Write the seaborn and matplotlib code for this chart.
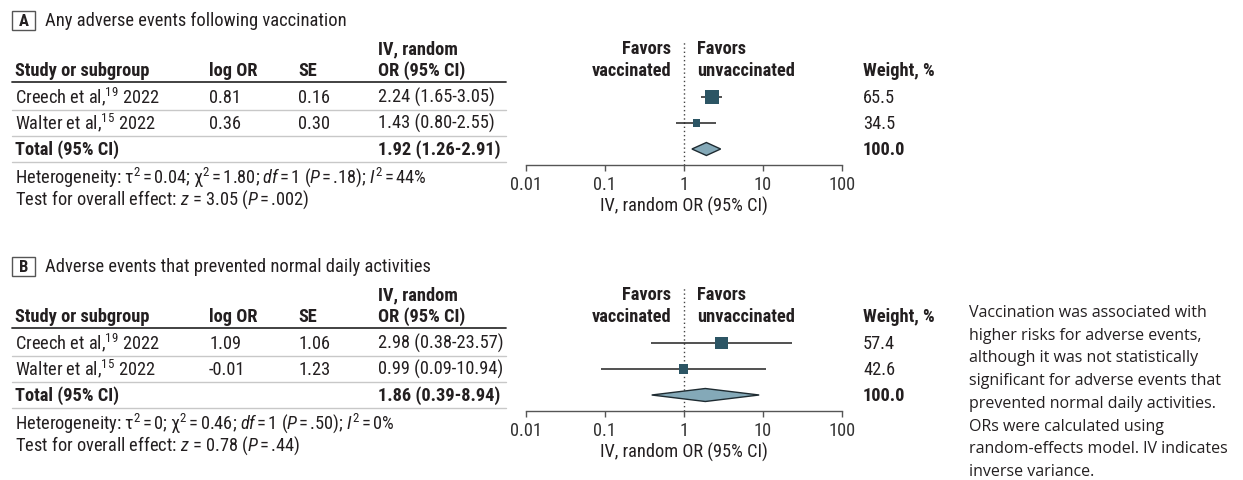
import matplotlib
matplotlib.use("Agg")
import matplotlib.pyplot as plt
from matplotlib import font_manager
from matplotlib.lines import Line2D
from matplotlib.patches import Polygon, Rectangle
import seaborn as sns
import numpy as np
import pandas as pd

# ---------------- data ----------------
EQ = r"$\,$=$\,$"  # thin-spaced equals sign
studies = ["Creech et al,$^{19}$ 2022", "Walter et al,$^{15}$ 2022"]

a_title = "Any adverse events following vaccination"
a_log_or = ["0.81", "0.36"]
a_se = ["0.16", "0.30"]
a_or = [2.24, 1.43]
a_lo = [1.65, 0.80]
a_hi = [3.05, 2.55]
a_weight = [65.5, 34.5]
a_total = [1.92, 1.26, 2.91]
a_het = (r"Heterogeneity: τ$^2$" + EQ + "0.04; χ$^2$" + EQ + "1.80; $\it{df}$" + EQ +
         r"1 ($\it{P}$" + EQ + r".18); $\it{I}^2$" + EQ + "44%")
a_test = r"Test for overall effect: $\it{z}$ = 3.05 ($\it{P}$" + EQ + ".002)"

b_title = "Adverse events that prevented normal daily activities"
b_log_or = ["1.09", "-0.01"]
b_se = ["1.06", "1.23"]
b_or = [2.98, 0.99]
b_lo = [0.38, 0.09]
b_hi = [23.57, 10.94]
b_weight = [57.4, 42.6]
b_total = [1.86, 0.39, 8.94]
b_het = (r"Heterogeneity: τ$^2$" + EQ + "0; χ$^2$" + EQ + "0.46; $\it{df}$" + EQ +
         r"1 ($\it{P}$" + EQ + r".50); $\it{I}^2$" + EQ + "0%")
b_test = r"Test for overall effect: $\it{z}$ = 0.78 ($\it{P}$" + EQ + ".44)"

tick_vals = [0.01, 0.1, 1, 10, 100]
tick_labels = ["0.01", "0.1", "1", "10", "100"]

note = ("Vaccination was associated with\n"
        "higher risks for adverse events,\n"
        "although it was not statistically\n"
        "significant for adverse events that\n"
        "prevented normal daily activities.\n"
        "ORs were calculated using\n"
        "random-effects model. IV indicates\n"
        "inverse variance.")

# ---------------- style ----------------
sns.set_theme(style="white")
names = {f.name for f in font_manager.fontManager.ttflist}
FONT = "DejaVu Sans"
for cand in ["Roboto Condensed", "Liberation Sans Narrow", "Lato"]:
    if cand in names:
        FONT = cand
        break
NOTE_FONT = "Open Sans" if "Open Sans" in names else FONT
plt.rcParams["font.family"] = [FONT, "DejaVu Sans"]
plt.rcParams["mathtext.fontset"] = "custom"
plt.rcParams["mathtext.rm"] = FONT
plt.rcParams["mathtext.it"] = FONT + ":italic"
plt.rcParams["mathtext.bf"] = FONT + ":bold"
plt.rcParams["mathtext.sf"] = FONT
plt.rcParams["mathtext.default"] = "regular"

TXT = "#231f20"
SQ = "#2c5564"
DIA_FACE = "#84a9b8"
DIA_EDGE = "#1e2b31"
SEP = "#c8c8c8"
FS = 13.2

W, H = 1243, 481
fig = plt.figure(figsize=(W / 100, H / 100), dpi=100)


def fx(x):
    return x / W


def fy(y):
    return 1 - y / H


def T(x, y, s, size=FS, weight="normal", ha="left", color=TXT, **kw):
    # y is the baseline in pixels
    return fig.text(fx(x), fy(y), s, fontsize=size, fontweight=weight, ha=ha,
                    va="baseline", color=color, **kw)


def hline(x0, x1, y, color, lw):
    fig.add_artist(Line2D([fx(x0), fx(x1)], [fy(y), fy(y)], color=color, lw=lw,
                          transform=fig.transFigure))


def panel(top, letter, title, log_or, se, ors, los, his, weights, total, het, test):
    # layout (pixels) relative to panel top
    title_y = top + 26
    hdr1_y = top + 54
    hdr2_y = top + 76
    hline_y = top + 83
    row0 = top + 103
    spacing = 26.0
    sep_ys = [top + 110.5, top + 136.5, top + 163]
    het_y = top + 183
    test_y = top + 205
    axis_y = top + 166
    ax_top = top + 40

    # letter box + title
    fig.add_artist(Rectangle((fx(12), fy(top + 31)), fx(35) - fx(12), fy(top + 12) - fy(top + 31),
                             fill=False, edgecolor="#555555", lw=1, transform=fig.transFigure))
    T(23.5, top + 26.5, letter, size=12, weight="bold", ha="center")
    T(45, title_y, title, size=13.3)

    # table header
    T(15, hdr2_y, "Study or subgroup", weight="bold")
    T(209, hdr2_y, "log OR", weight="bold")
    T(298, hdr2_y, "SE", weight="bold")
    T(378, hdr1_y, "IV, random", weight="bold")
    T(378, hdr2_y, "OR (95% CI)", weight="bold")
    hline(12, 506, hline_y, "#333333", 1.3)

    for i in range(len(ors)):
        yb = row0 + i * spacing
        T(15, yb, studies[i])
        T(209, yb, log_or[i])
        T(298, yb, se[i])
        T(378, yb, f"{ors[i]:.2f} ({los[i]:.2f}-{his[i]:.2f})")
        T(863, yb, f"{weights[i]:.1f}")
    yb = row0 + len(ors) * spacing
    T(15, yb, "Total (95% CI)", weight="bold")
    T(378, yb, f"{total[0]:.2f} ({total[1]:.2f}-{total[2]:.2f})", weight="bold")
    T(863, yb, f"{sum(weights):.1f}", weight="bold")
    for sy in sep_ys:
        hline(12, 506, sy, SEP, 1.0)
    T(15, het_y, het)
    T(15, test_y, test)

    # favors + weight header
    T(671, hdr1_y, "Favors", weight="bold", ha="right")
    T(671, hdr2_y, "vaccinated", weight="bold", ha="right")
    T(697, hdr1_y, "Favors", weight="bold")
    T(697, hdr2_y, "unvaccinated", weight="bold")
    T(863, hdr2_y, "Weight, %", weight="bold")

    # forest axes
    ax = fig.add_axes([fx(526), fy(axis_y), fx(842) - fx(526), fy(ax_top) - fy(axis_y)])
    ax.set_xscale("log")
    ax.set_xlim(tick_vals[0], tick_vals[-1])
    rc0 = row0 - 5  # visual centre of the first row
    ax.set_ylim((axis_y - rc0) / spacing, (ax_top - rc0) / spacing)
    df = pd.DataFrame({"or": ors, "lo": los, "hi": his, "w": weights,
                       "row": np.arange(len(ors))})
    ax.hlines(df["row"], df["lo"], df["hi"], color="#222222", lw=1.1, zorder=2)
    px_per_pt = 100 / 72
    sizes = [(0.214 * w / px_per_pt) ** 2 for w in weights]
    sns.scatterplot(data=df, x="or", y="row", marker="s", s=sizes, color=SQ,
                    linewidth=0, ax=ax, legend=False, zorder=3)
    yt = len(ors)
    half_h = 6.5 / spacing
    dia = Polygon([(total[1], yt), (total[0], yt - half_h), (total[2], yt), (total[0], yt + half_h)],
                  closed=True, facecolor=DIA_FACE, edgecolor=DIA_EDGE, lw=1.0, zorder=3)
    ax.add_patch(dia)
    ax.plot([1, 1], [(axis_y - rc0) / spacing, (ax_top + 2 - rc0) / spacing], color="#444444",
            lw=1.0, ls=(0, (1, 2)), zorder=1, clip_on=False)
    ax.set_xlabel("")
    ax.set_ylabel("")
    ax.set_yticks([])
    ax.set_xticks(tick_vals)
    ax.set_xticklabels(tick_labels)
    ax.minorticks_off()
    ax.tick_params(axis="x", which="major", direction="out", length=4, width=1,
                   color="#555555", labelsize=13.2, labelcolor="#333333", pad=3,
                   bottom=True)
    for side in ["top", "left", "right"]:
        ax.spines[side].set_visible(False)
    ax.spines["bottom"].set_color("#555555")
    ax.spines["bottom"].set_linewidth(1.0)
    ax.patch.set_alpha(0)
    T(684, top + 212, "IV, random OR (95% CI)", ha="center", size=13.2)
    return ax


panel(0, "A", a_title, a_log_or, a_se, a_or, a_lo, a_hi, a_weight, a_total, a_het, a_test)
panel(246, "B", b_title, b_log_or, b_se, b_or, b_lo, b_hi, b_weight, b_total, b_het, b_test)

fig.text(fx(969), fy(305), note, fontsize=11.5, family=[NOTE_FONT, "DejaVu Sans"], color=TXT,
         ha="left", va="top", linespacing=1.56)

fig.savefig("out.png", dpi=100)
